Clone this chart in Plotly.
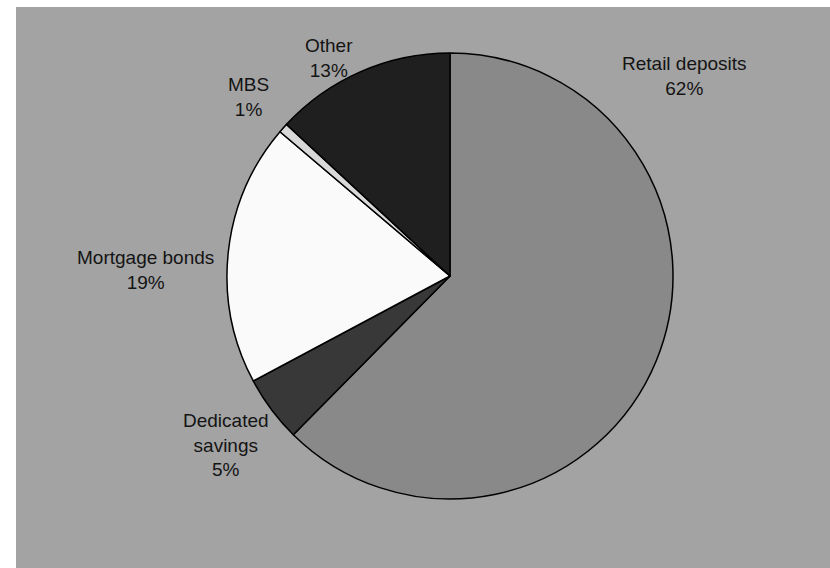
import plotly.graph_objects as go

# Data (clockwise from 12 o'clock)
categories = ["Retail deposits", "Dedicated savings", "Mortgage bonds", "MBS", "Other"]
shares = [62.4, 4.8, 19.0, 0.7, 13.1]
shown_pct = ["62%", "5%", "19%", "1%", "13%"]
label_text = ["Retail deposits", "Dedicated<br>savings", "Mortgage bonds", "MBS", "Other"]
slice_colors = ["#898989", "#383838", "#FAFAFA", "#D8D8D8", "#1F1F1F"]

W, H = 830, 568
cx, cy, r = 450, 276, 223  # pixel centre / radius of the pie

fig = go.Figure()
fig.add_trace(go.Pie(
    labels=categories,
    values=shares,
    sort=False,
    direction="clockwise",
    rotation=0,
    marker=dict(colors=slice_colors, line=dict(color="#000000", width=1.5)),
    textinfo="none",
    hoverinfo="label+percent",
    showlegend=False,
    domain=dict(x=[(cx - r) / W, (cx + r) / W],
                y=[(H - cy - r) / H, (H - cy + r) / H]),
))

# label anchor positions in pixels (centre of text block)
label_pos = {
    "Retail deposits": (684, 76),
    "Dedicated savings": (226, 445),
    "Mortgage bonds": (145, 270),
    "MBS": (248, 97),
    "Other": (329, 58),
}
for cat, txt, pct in zip(categories, label_text, shown_pct):
    px, py = label_pos[cat]
    fig.add_annotation(
        x=px / W, y=1 - py / H, xref="paper", yref="paper",
        text=f"{txt}<br>{pct}", showarrow=False,
        font=dict(family="Liberation Sans, Arial, sans-serif", size=19, color="#141414"),
        align="center", xanchor="center", yanchor="middle",
    )

fig.update_layout(
    width=W, height=H,
    margin=dict(l=0, r=0, t=0, b=0),
    paper_bgcolor="#FFFFFF",
    plot_bgcolor="#FFFFFF",
    shapes=[dict(type="rect", xref="paper", yref="paper",
                 x0=16 / W, x1=1, y0=0, y1=1 - 7 / H,
                 fillcolor="#A3A3A3", line=dict(width=0), layer="below")],
)

fig.write_html("out.html")
